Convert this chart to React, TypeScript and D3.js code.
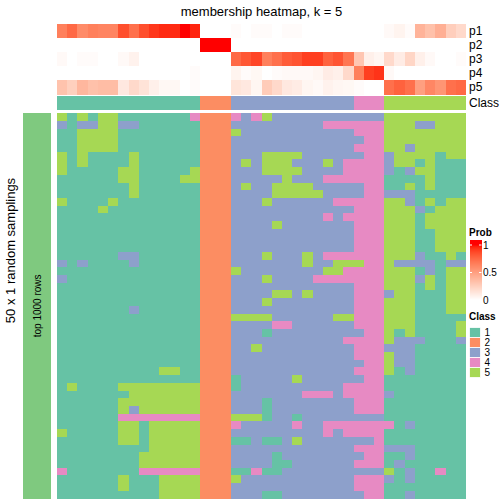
import React from "react";
import * as d3 from "d3";

const title = "membership heatmap, k = 5";
const classes = ["1", "2", "3", "4", "5"];
const classColors = ["#66C2A5", "#FC8D62", "#8DA0CB", "#E78AC3", "#A6D854"];
const probRowNames = ["p1", "p2", "p3", "p4", "p5"];

const p1 = [0.65, 0.75, 0.6, 0.65, 0.63, 0.63, 0.85, 0.72, 0.85, 0.92, 0.95, 0.95, 1.0, 0.96, 0, 0, 0, 0.02, 0, 0.02, 0.02, 0, 0.02, 0.02, 0, 0, 0, 0, 0, 0, 0, 0, 0.03, 0.06, 0.02, 0.4, 0.33, 0.42, 0.26, 0.2];
const p2 = [0, 0, 0, 0, 0, 0, 0, 0, 0, 0, 0, 0, 0, 0, 1, 1, 1, 0, 0, 0, 0, 0, 0, 0, 0, 0, 0, 0, 0, 0, 0, 0, 0, 0, 0, 0, 0, 0, 0, 0];
const p3 = [0.03, 0, 0.02, 0.02, 0, 0, 0.03, 0.07, 0, 0, 0, 0, 0, 0, 0, 0, 0, 0.75, 0.82, 0.88, 0.65, 0.72, 0.8, 0.83, 0.9, 0.9, 0.78, 0.83, 0.7, 0.3, 0.08, 0.05, 0.2, 0.1, 0.22, 0.08, 0.03, 0, 0, 0.02];
const p4 = [0, 0, 0, 0, 0, 0, 0, 0, 0, 0, 0, 0, 0, 0.02, 0, 0, 0, 0.06, 0.02, 0.04, 0, 0.02, 0.03, 0.03, 0.03, 0.05, 0.1, 0.08, 0.2, 0.65, 0.9, 0.93, 0.03, 0, 0, 0, 0, 0, 0, 0];
const p5 = [0.32, 0.25, 0.38, 0.33, 0.35, 0.35, 0.12, 0.2, 0.15, 0.08, 0.04, 0.04, 0, 0.02, 0, 0, 0, 0.14, 0.12, 0.05, 0.27, 0.2, 0.12, 0.1, 0.05, 0.03, 0.07, 0.05, 0.04, 0.02, 0, 0, 0.72, 0.78, 0.72, 0.5, 0.62, 0.55, 0.72, 0.75];

const sampleClass = "1111111111111122233333333333344455555555";

const samplingRows = [
  "51515511111114" + "222" + "434533333333" + "333" + "55555555",
  "31335533111111" + "222" + "333333333444" + "444" + "55533555",
  "11555511111111" + "222" + "533333333333" + "444" + "55555555",
  "11555511111111" + "222" + "333333333333" + "344" + "55555555",
  "11555511111111" + "222" + "333333333333" + "444" + "55355555",
  "51511115111111" + "222" + "333555533333" + "344" + "35555155",
  "51511115111111" + "222" + "353555333534" + "444" + "35515111",
  "51111155111115" + "222" + "333555533334" + "444" + "31355111",
  "11111155111155" + "222" + "333335333444" + "444" + "11115111",
  "11111115111111" + "222" + "353355553333" + "344" + "11515111",
  "11111115111111" + "222" + "333355555333" + "344" + "33311111",
  "51111511111111" + "222" + "333533333344" + "444" + "55315155",
  "11115111111111" + "222" + "333333333333" + "444" + "55531555",
  "11111111111111" + "222" + "333333333434" + "444" + "55515555",
  "11111111111111" + "222" + "333353333333" + "444" + "55515555",
  "11111111111111" + "222" + "333333333333" + "444" + "55511555",
  "11111111111111" + "222" + "333333333333" + "444" + "55511555",
  "11111111111111" + "222" + "333333333333" + "444" + "55511555",
  "11111133111111" + "222" + "333533353444" + "444" + "55531151",
  "31311113111111" + "222" + "333333353355" + "544" + "53333133",
  "11111111111111" + "222" + "533333333554" + "444" + "55513155",
  "31111111111111" + "222" + "333533334444" + "444" + "55535155",
  "11111111111111" + "222" + "333333333333" + "444" + "55515155",
  "11111111111111" + "222" + "333355353333" + "444" + "35511155",
  "11111111111111" + "222" + "333533333333" + "444" + "55511155",
  "11111113111111" + "222" + "333333333333" + "444" + "55511155",
  "11111111111111" + "222" + "555533333355" + "444" + "55511111",
  "11111111111111" + "222" + "333344333333" + "444" + "55511115",
  "11111111111111" + "222" + "333133333333" + "344" + "51511115",
  "11111111111111" + "222" + "333333333334" + "444" + "53331113",
  "11111111111111" + "222" + "335333333333" + "444" + "33311111",
  "11111111111111" + "222" + "333333333333" + "444" + "53311111",
  "11111111111111" + "222" + "333333333333" + "344" + "53311111",
  "11111111115511" + "222" + "333333333333" + "444" + "51311111",
  "11111111111111" + "222" + "133333533333" + "344" + "11111111",
  "15111155555555" + "222" + "133333333334" + "444" + "11111111",
  "11111115555555" + "222" + "333333344434" + "444" + "31111111",
  "11111155555555" + "222" + "333133333333" + "444" + "11111111",
  "11111153555555" + "222" + "333133333333" + "444" + "11111111",
  "11111144444444" + "222" + "555133133333" + "333" + "11111111",
  "11111155155555" + "222" + "433333433444" + "444" + "41311111",
  "51111155155555" + "222" + "333333333434" + "444" + "11111111",
  "11111155155555" + "222" + "113113533333" + "334" + "11111111",
  "11111111155555" + "222" + "333333333333" + "444" + "33311111",
  "11111111555555" + "222" + "333313333333" + "344" + "11311111",
  "11111111555555" + "222" + "333311333333" + "444" + "13111111",
  "41111111444444" + "222" + "114113333333" + "333" + "51311411",
  "11111151115555" + "222" + "533333333333" + "444" + "31311111",
  "11111151115555" + "222" + "333333333333" + "444" + "11111111",
  "11111111115555" + "222" + "333113333333" + "344" + "11311111",
];

const probTicks = [0, 0.5, 1];
const leftBarLabel = "top 1000 rows";
const leftTitle = "50 x 1 random samplings";
const probLegendTitle = "Prob";
const classLegendTitle = "Class";

const FONT = "'Liberation Sans', Arial, Helvetica, sans-serif";

export default function App() {
  const probs = [p1, p2, p3, p4, p5];
  const nCol = sampleClass.length;
  const nRow = samplingRows.length;

  const x = d3.scaleBand<number>().domain(d3.range(nCol)).range([57, 466]);
  const yAnno = d3.scaleBand<string>().domain(probRowNames).range([24, 94.3]);
  const classRowY = 95.7;
  const classRowH = 14.3;
  const yMain = d3.scaleBand<number>().domain(d3.range(nRow)).range([113.2, 498.5]);
  const probColor = d3
    .scaleLinear<string>()
    .domain([0, 1])
    .range(["#FFFFFF", "#FF0000"])
    .interpolate(d3.interpolateLab);
  const classColor = d3.scaleOrdinal<string, string>().domain(classes).range(classColors);

  const legY = d3.scaleLinear().domain([0, 1]).range([300, 245]).clamp(true);
  const legPixels = d3.range(240, 302);
  const legX = 469.5;
  const legW = 12;

  const cw = x.bandwidth();
  const rh = yMain.bandwidth();
  const midY = (yMain.range()[0] + yMain.range()[1]) / 2;

  return (
    <svg
      width={504}
      height={504}
      style={{ position: "absolute", left: 0, top: 0, background: "#fff" }}
      fontFamily={FONT}
    >
      <rect x={0} y={0} width={504} height={504} fill="#fff" />
      <text x={261.5} y={15.5} fontSize={13} textAnchor="middle" fill="#000">
        {title}
      </text>

      {/* probability annotation rows */}
      <g shapeRendering="crispEdges">
        {probs.map((vals, r) => (
          <g key={"p" + r}>
            {vals.map((v, c) => (
              <rect
                key={c}
                x={x(c)}
                y={yAnno(probRowNames[r])}
                width={cw + 0.4}
                height={yAnno.bandwidth() + 0.4}
                fill={probColor(v)}
              />
            ))}
          </g>
        ))}
        {sampleClass.split("").map((k, c) => (
          <rect key={"cls" + c} x={x(c)} y={classRowY} width={cw + 0.4} height={classRowH} fill={classColor(k)} />
        ))}
        {samplingRows.map((row, r) =>
          row.split("").map((k, c) => (
            <rect
              key={r + "-" + c}
              x={x(c)}
              y={yMain(r)}
              width={cw + 0.4}
              height={rh + 0.4}
              fill={classColor(k)}
            />
          ))
        )}
        <rect x={22.7} y={yMain.range()[0]} width={28.3} height={yMain.range()[1] - yMain.range()[0]} fill="#7FC97F" />
      </g>

      {probRowNames.map((name) => (
        <text
          key={"lab" + name}
          x={469}
          y={(yAnno(name) as number) + yAnno.bandwidth() / 2}
          fontSize={12}
          dominantBaseline="central"
        >
          {name}
        </text>
      ))}
      <text x={469} y={classRowY + classRowH / 2} fontSize={12} dominantBaseline="central">
        Class
      </text>

      <text
        transform={`translate(37.5,${midY}) rotate(-90)`}
        fontSize={10}
        textAnchor="middle"
        dominantBaseline="central"
      >
        {leftBarLabel}
      </text>
      <text
        transform={`translate(10,250.5) rotate(-90)`}
        fontSize={13}
        textAnchor="middle"
        dominantBaseline="central"
      >
        {leftTitle}
      </text>

      {/* prob legend */}
      <text x={469} y={236} fontSize={10} fontWeight="bold">
        {probLegendTitle}
      </text>
      <g shapeRendering="crispEdges">
        {legPixels.map((py) => (
          <rect key={"lg" + py} x={legX} y={py} width={legW} height={1.05} fill={probColor(legY.invert(py + 0.5))} />
        ))}
      </g>
      {probTicks.map((t) => (
        <g key={"tk" + t}>
          <line x1={legX} x2={legX + 2.5} y1={legY(t)} y2={legY(t)} stroke="#fff" strokeWidth={1} />
          <line x1={legX + legW - 2.5} x2={legX + legW} y1={legY(t)} y2={legY(t)} stroke="#fff" strokeWidth={1} />
          <text x={483} y={legY(t)} fontSize={10} dominantBaseline="central">
            {String(t)}
          </text>
        </g>
      ))}

      {/* class legend */}
      <text x={469} y={320} fontSize={10} fontWeight="bold">
        {classLegendTitle}
      </text>
      {classes.map((k, i) => (
        <g key={"cl" + k}>
          <rect x={469.5} y={327.5 + i * 10} width={11} height={10} fill={classColor(k)} stroke="#fff" strokeWidth={0.8} />
          <text x={484.5} y={332.5 + i * 10} fontSize={10} dominantBaseline="central">
            {k}
          </text>
        </g>
      ))}
    </svg>
  );
}
